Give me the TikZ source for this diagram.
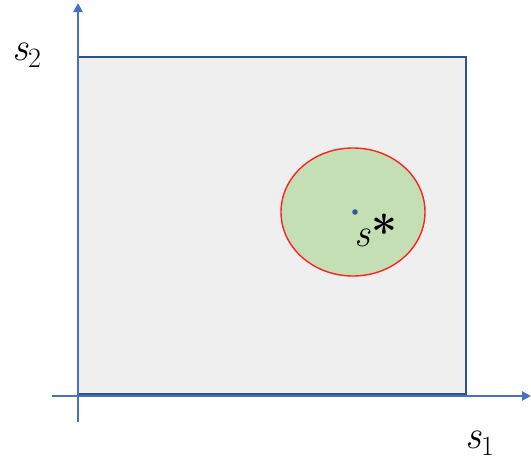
\documentclass[tikz,border=0pt]{standalone}
\usepackage{fontspec}
\setmainfont{Latin Modern Roman}
\usetikzlibrary{arrows.meta,shapes.geometric}
\definecolor{axisblue}{HTML}{4472C4}
\definecolor{boxblue}{HTML}{2F528F}
\definecolor{boxfill}{HTML}{EFEFEF}
\definecolor{ballfill}{HTML}{C5DFB5}
\definecolor{ballred}{HTML}{FF2020}
\newcommand{\bigs}{{\fontsize{40}{44}\selectfont\itshape s}}
\newcommand{\smalltxt}[1]{{\fontsize{28}{30}\selectfont #1}}
\begin{document}
\begin{tikzpicture}[x=1pt,y=-1pt,
  axis/.style={draw=axisblue,line width=2.8pt,-{Triangle[length=9pt,width=9pt]}},
  lbl/.style={inner sep=0pt}]
\useasboundingbox (0,0) rectangle (531,461);
\node[draw=boxblue,fill=boxfill,line width=1.4pt,minimum width=388pt,minimum height=337pt,inner sep=0pt,outer sep=0pt,anchor=north west] (box) at (78,57) {};
\node[draw=ballred,fill=ballfill,line width=1.4pt,ellipse,minimum width=144pt,minimum height=128pt,inner sep=0pt,outer sep=0pt] (ball) at (353,212) {};
\coordinate (yb) at (78,422);
\coordinate (yt) at (78,3);
\coordinate (xl) at (52,396);
\coordinate (xr) at (531,396);
\draw[axis] (yb) -- (yt);
\draw[axis] (xl) -- (xr);
\fill[boxblue!80!axisblue] (355,212) circle (2.8pt) coordinate (opt);
\node[lbl,anchor=base west] (sstar) at (354,246) {\bigs\kern1pt\raisebox{-2pt}{{\fontsize{46}{48}\selectfont\bfseries *}}};
\node[lbl,anchor=base west] (s1) at (465,448) {\bigs\raisebox{-7pt}{\smalltxt{1}}};
\node[lbl,anchor=base west] (s2) at (12,60) {\bigs\raisebox{-7pt}{\smalltxt{2}}};
\end{tikzpicture}
\end{document}
